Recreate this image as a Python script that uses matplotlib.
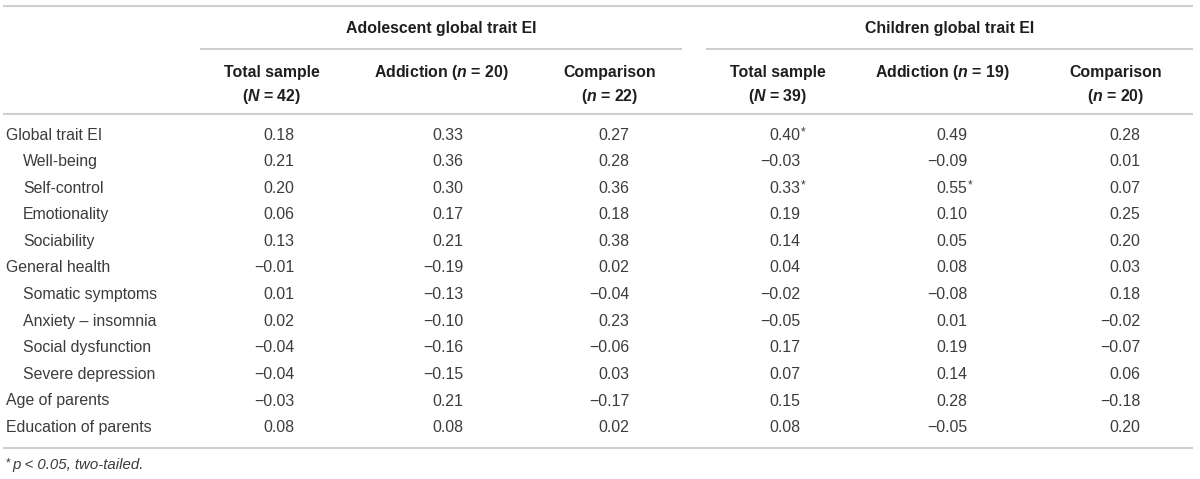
import matplotlib.pyplot as plt

# row labels, True = indented sub-scale
rows = ['Global trait EI', 'Well-being', 'Self-control', 'Emotionality', 'Sociability',
        'General health', 'Somatic symptoms', 'Anxiety \u2013 insomnia',
        'Social dysfunction', 'Severe depression', 'Age of parents', 'Education of parents']
indent = [False, True, True, True, True, False, True, True, True, True, False, False]

groups = ['Adolescent global trait EI', 'Children global trait EI']
col_heads = [('Total sample', '($\\mathit{N}$ = 42)'), ('Addiction ($\\mathit{n}$ = 20)', ''),
             ('Comparison', '($\\mathit{n}$ = 22)'),
             ('Total sample', '($\\mathit{N}$ = 39)'), ('Addiction ($\\mathit{n}$ = 19)', ''),
             ('Comparison', '($\\mathit{n}$ = 20)')]

ado_total = [0.18, 0.21, 0.20, 0.06, 0.13, -0.01, 0.01, 0.02, -0.04, -0.04, -0.03, 0.08]
ado_addict = [0.33, 0.36, 0.30, 0.17, 0.21, -0.19, -0.13, -0.10, -0.16, -0.15, 0.21, 0.08]
ado_comp = [0.27, 0.28, 0.36, 0.18, 0.38, 0.02, -0.04, 0.23, -0.06, 0.03, -0.17, 0.02]
chi_total = [0.40, -0.03, 0.33, 0.19, 0.14, 0.04, -0.02, -0.05, 0.17, 0.07, 0.15, 0.08]
chi_addict = [0.49, -0.09, 0.55, 0.10, 0.05, 0.08, -0.08, 0.01, 0.19, 0.14, 0.28, -0.05]
chi_comp = [0.28, 0.01, 0.07, 0.25, 0.20, 0.03, 0.18, -0.02, -0.07, 0.06, -0.18, 0.20]
# significant cells (p < 0.05): (column, row)
signif = [(3, 0), (3, 2), (4, 2)]

columns = [ado_total, ado_addict, ado_comp, chi_total, chi_addict, chi_comp]

plt.rcParams['font.family'] = ['Liberation Sans', 'DejaVu Sans']
plt.rcParams['mathtext.fontset'] = 'custom'
plt.rcParams['mathtext.it'] = 'Liberation Sans:italic:bold'

fig = plt.figure(figsize=(12, 4.79), dpi=100)
ax = fig.add_axes([0, 0, 1, 1])
ax.set_xlim(0, 1200)
ax.set_ylim(479, 0)
ax.axis('off')

body = '#3c3c3c'
head = '#1e1e1e'
line_c = '#cfcfcf'
fs = 11.4

head_x = [272, 441, 610, 778, 942, 1116]
val_x = [277, 446, 612, 783, 950, 1123]
group_span = [(200, 682), (706, 1193)]

# horizontal rules
for y in (6, 114, 448):
    ax.plot([3, 1193], [y, y], color=line_c, lw=1.5, solid_capstyle='butt')
for (x0, x1), g in zip(group_span, groups):
    ax.plot([x0, x1], [49, 49], color=line_c, lw=1.5, solid_capstyle='butt')
    ax.text((x0 + x1) / 2, 28, g, ha='center', va='center', fontsize=fs,
            fontweight='bold', color=head)

for x, (l1, l2) in zip(head_x, col_heads):
    ax.text(x, 72, l1, ha='center', va='center', fontsize=fs, fontweight='bold', color=head)
    if l2:
        ax.text(x, 96, l2, ha='center', va='center', fontsize=fs, fontweight='bold', color=head)

row_y0 = 135
row_h = 26.6
for i, lab in enumerate(rows):
    y = row_y0 + i * row_h
    ax.text(23 if indent[i] else 6, y, lab, ha='left', va='center', fontsize=fs, color=body)
    for j, col in enumerate(columns):
        v = col[i]
        s = ('\u2212' if v < 0 else '') + '%.2f' % abs(v)
        ax.text(val_x[j] + 17, y, s, ha='right', va='center', fontsize=fs, color=body)
        if (j, i) in signif:
            ax.text(val_x[j] + 17.5, y - 3, '*', ha='left', va='center', fontsize=8.5, color=body)

ax.text(6, 463, '*', ha='left', va='center', fontsize=8.5, color=body)
ax.text(12, 465, 'p < 0.05, two-tailed.', ha='left', va='center', fontsize=fs - 0.6,
        style='italic', color=body)

fig.savefig('out.png', dpi=100)
